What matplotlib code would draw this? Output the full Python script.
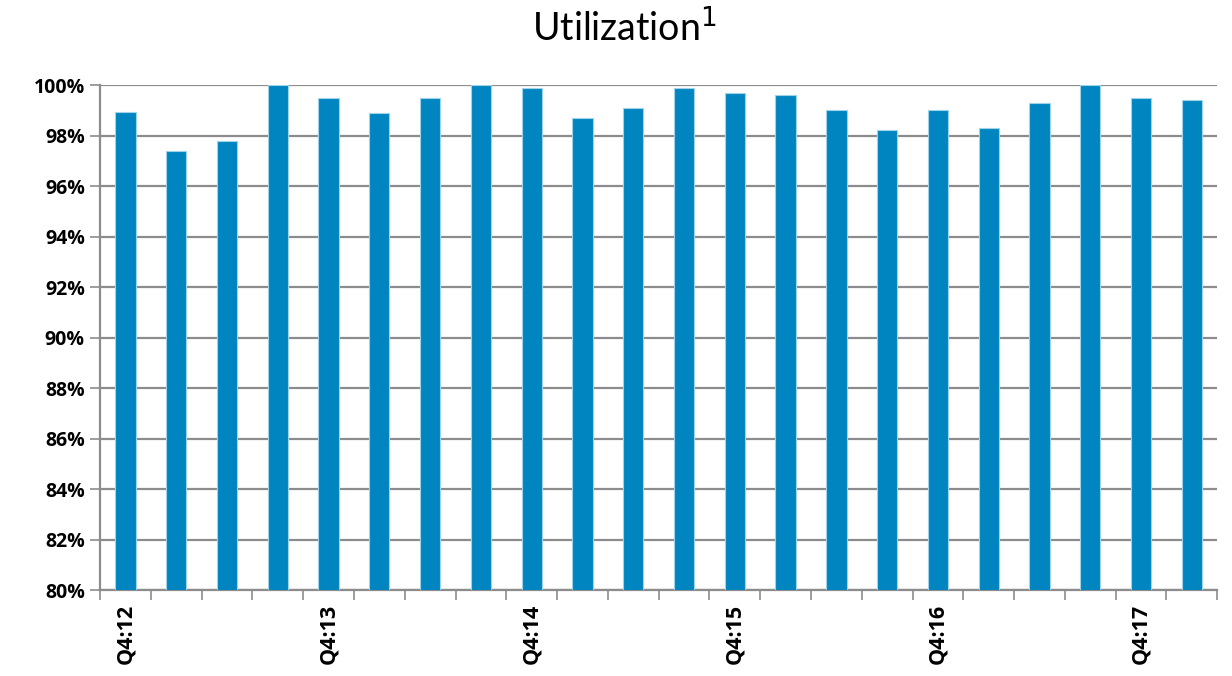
import matplotlib
matplotlib.use("Agg")
import matplotlib.pyplot as plt
import numpy as np

quarters = ["Q4:12", "Q1:13", "Q2:13", "Q3:13", "Q4:13", "Q1:14", "Q2:14", "Q3:14",
            "Q4:14", "Q1:15", "Q2:15", "Q3:15", "Q4:15", "Q1:16", "Q2:16", "Q3:16",
            "Q4:16", "Q1:17", "Q2:17", "Q3:17", "Q4:17", "Q1:18"]
utilization = [98.95, 97.4, 97.8, 100.0, 99.5, 98.9, 99.5, 100.0,
               99.9, 98.7, 99.1, 99.9, 99.7, 99.6, 99.0, 98.2,
               99.0, 98.3, 99.3, 100.0, 99.5, 99.4]
shown_labels = ["Q4:12", "Q4:13", "Q4:14", "Q4:15", "Q4:16", "Q4:17"]
yticks = [80, 82, 84, 86, 88, 90, 92, 94, 96, 98, 100]

plt.rcParams['font.family'] = ['Open Sans', 'DejaVu Sans']

fig = plt.figure(figsize=(12.32, 6.76), dpi=100)
ax = fig.add_axes([0.0812, 0.1272, 0.9068, 0.7470])

x = np.arange(len(quarters))
ax.bar(x, utilization, width=0.4, color="#0085C0", edgecolor="#9fd3ea",
       linewidth=0.8, zorder=3)

ax.set_ylim(80, 100)
ax.set_xlim(-0.5, len(quarters) - 0.5)
ax.set_yticks(yticks)
ax.set_yticklabels([f"{v}%" for v in yticks], fontsize=14, fontweight='bold')
ax.yaxis.grid(True, color="#8c8c8c", linewidth=1.6, zorder=0)

major_pos = [quarters.index(q) for q in shown_labels]
ax.set_xticks(major_pos)
ax.set_xticklabels(shown_labels, rotation=90, fontsize=15.5, fontweight='bold')
ax.set_xticks(np.arange(-0.5, len(quarters)), minor=True)
ax.tick_params(axis='x', which='major', length=0, pad=10)
ax.tick_params(axis='x', which='minor', length=7, width=1.2, color="#8c8c8c")
ax.tick_params(axis='y', length=7, width=1.2, color="#8c8c8c", pad=4)

for s in ['top', 'right']:
    ax.spines[s].set_visible(False)
for s in ['left', 'bottom']:
    ax.spines[s].set_color("#8c8c8c")
    ax.spines[s].set_linewidth(1.6)

fig.text(0.507, 0.958, "Utilization$^{1}$", ha='center', va='center', fontsize=27,
         family=['Lato', 'DejaVu Sans'])

fig.savefig("out.png", dpi=100)
